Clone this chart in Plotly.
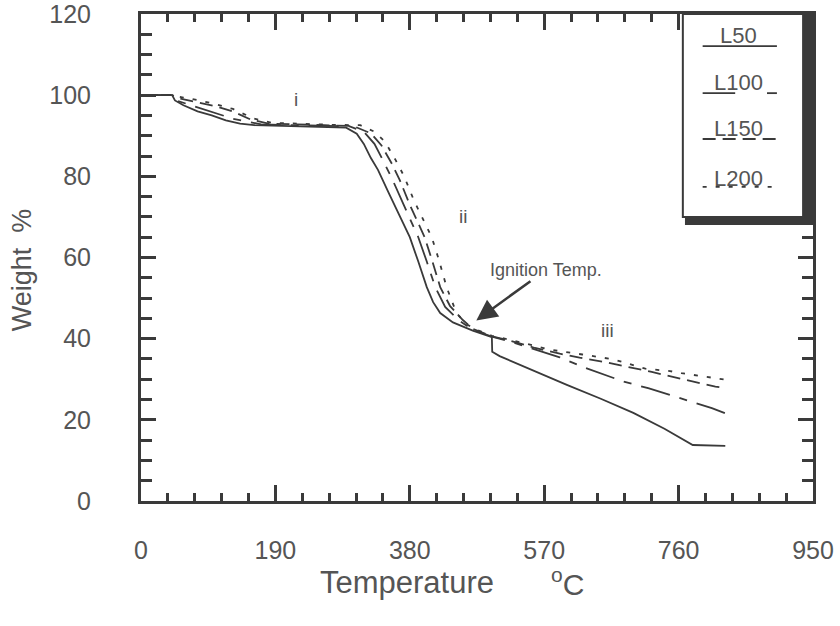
import plotly.graph_objects as go

# ---------------- data ----------------
series_names = ["L50", "L100", "L150", "L200"]

temp_L50 = [0, 44, 48, 60, 80, 100, 120, 140, 160, 200, 250, 290, 305, 315, 325, 335, 350, 365,
            380, 392, 404, 413, 423, 441, 469, 496, 496.5, 507, 540, 578, 602, 650, 696, 740, 780, 826]
wt_L50 = [100, 100, 98.7, 97.5, 96, 95, 93.8, 93, 92.6, 92.4, 92.3, 92, 90.5, 88, 84.5, 81.6, 76, 70.5,
          65, 59, 52.7, 49, 46.3, 44, 42, 40.4, 36.8, 35.7, 33.2, 30.3, 28.6, 25.2, 21.7, 17.8, 13.8, 13.6]

temp_L100 = [0, 44, 48, 70, 100, 130, 170, 250, 295, 315, 330, 342, 356, 370, 392, 404, 416, 430,
             450, 469, 496, 520, 557, 592, 628, 681, 717, 772, 807, 826]
wt_L100 = [100, 100, 98.8, 97.6, 96, 94.2, 92.8, 92.5, 92.3, 91, 88, 84, 79, 73.5, 65, 59, 52.7, 47.8,
           44.4, 42.2, 40.5, 39.4, 37.4, 35.4, 32.8, 29.5, 27.8, 24.9, 22.9, 21.6]

temp_L150 = [0, 44, 55, 80, 105, 130, 155, 180, 260, 300, 325, 340, 355, 366, 380, 401, 412, 423,
             437, 455, 469, 496, 520, 557, 592, 620, 660, 691, 722, 766, 790, 812, 826]
wt_L150 = [100, 100, 99.2, 98.2, 97.3, 96, 94, 93, 92.6, 92.4, 90.6, 87.6, 83, 79, 73, 65, 59, 52.7,
           48, 44.6, 42.4, 40.6, 39.6, 37.7, 36.3, 35.3, 34.1, 33.0, 31.8, 30.0, 29.0, 28.2, 27.9]

temp_L200 = [0, 44, 60, 80, 100, 130, 160, 185, 270, 310, 330, 345, 360, 372, 386, 411, 421, 432,
             446, 460, 472, 496, 520, 557, 578, 624, 668, 713, 748, 764, 790, 815, 826]
wt_L200 = [100, 100, 99.4, 98.8, 98, 96.6, 94.2, 93.2, 92.7, 92.6, 91, 88.5, 84, 80, 74, 65, 59.5, 52.7,
           46.3, 43.6, 42.4, 40.7, 39.8, 38.2, 37.3, 36.1, 34.9, 32.6, 32.0, 31.5, 30.8, 30.1, 29.9]

x_ticks = [0, 190, 380, 570, 760, 950]
y_ticks = [0, 20, 40, 60, 80, 100, 120]

stage_labels = ["i", "ii", "iii"]
stage_pos_x = [219, 455, 659]
stage_pos_y = [99, 70, 42]

ignition_label = "Ignition Temp."
ignition_point = (474, 44.5)
ignition_text_pos = (573, 57)

# ---------------- styling ----------------
INK = "#3a3a3a"
TXT = "#555555"
FONT = "Liberation Sans, Arial, sans-serif"
dashes = ["solid", "30px,10px,8px,10px", "13px,7px", "4px,9px"]

fig = go.Figure()
for name, xs, ys, d in zip(series_names,
                           [temp_L50, temp_L100, temp_L150, temp_L200],
                           [wt_L50, wt_L100, wt_L150, wt_L200], dashes):
    fig.add_trace(go.Scatter(x=xs, y=ys, mode="lines", name=name, showlegend=False,
                             line=dict(color=INK, width=1.8, dash=d)))

axis_common = dict(showline=True, linewidth=3, linecolor=INK, mirror="ticks",
                   ticks="inside", tickwidth=2.5, tickcolor=INK, automargin=False,
                   ticklabeloverflow="allow",
                   showgrid=False, zeroline=False,
                   tickfont=dict(family=FONT, size=25, color=TXT))

fig.update_xaxes(range=[0, 950], tickvals=x_ticks, ticklen=16, ticklabelstandoff=25,
                 minor=dict(ticks="inside", dtick=38, tick0=0, ticklen=8, tickwidth=2.5, tickcolor=INK),
                 **axis_common)
fig.update_yaxes(range=[0, 120], tickvals=y_ticks, ticklen=15, ticklabelstandoff=42,
                 minor=dict(ticks="inside", dtick=5, tick0=0, ticklen=11, tickwidth=2.5, tickcolor=INK),
                 **axis_common)

# ---------------- custom legend box (text above line sample) ----------------
shapes = []
shapes.append(dict(type="rect", xref="x", yref="y", x0=936, x1=950, y0=68, y1=120,
                   fillcolor=INK, line=dict(width=0)))
shapes.append(dict(type="rect", xref="x", yref="y", x0=769, x1=950, y0=68, y1=70,
                   fillcolor=INK, line=dict(width=0)))
shapes.append(dict(type="rect", xref="x", yref="y", x0=766, x1=936, y0=70, y1=120,
                   fillcolor="white", line=dict(width=2, color=INK)))

leg_text_y = [114.6, 103.0, 91.8, 79.5]
leg_line_y = [112.1, 100.5, 89.2, 77.4]
for i, name in enumerate(series_names):
    if i == 1:
        shapes.append(dict(type="line", xref="x", yref="y", x0=794, x1=840, y0=leg_line_y[i], y1=leg_line_y[i],
                           line=dict(color=INK, width=1.8)))
        shapes.append(dict(type="line", xref="x", yref="y", x0=885, x1=899, y0=leg_line_y[i], y1=leg_line_y[i],
                           line=dict(color=INK, width=1.8)))
    else:
        shapes.append(dict(type="line", xref="x", yref="y", x0=794, x1=899, y0=leg_line_y[i], y1=leg_line_y[i],
                           line=dict(color=INK, width=1.8, dash=dashes[i])))

annotations = []
for i, name in enumerate(series_names):
    annotations.append(dict(x=845, y=leg_text_y[i], xref="x", yref="y", text=name, showarrow=False,
                            xanchor="center", font=dict(family=FONT, size=22, color=TXT)))

for lab, lx, ly in zip(stage_labels, stage_pos_x, stage_pos_y):
    annotations.append(dict(x=lx, y=ly, xref="x", yref="y", text=lab, showarrow=False,
                            xanchor="center", font=dict(family=FONT, size=19, color=TXT)))

annotations.append(dict(x=ignition_point[0], y=ignition_point[1], xref="x", yref="y",
                        ax=ignition_text_pos[0], ay=ignition_text_pos[1], axref="x", ayref="y",
                        text=ignition_label, showarrow=True,
                        arrowhead=2, arrowsize=1.6, arrowwidth=2.6, arrowcolor=INK, standoff=0,
                        font=dict(family=FONT, size=18, color=TXT)))

# axis titles
annotations.append(dict(x=-0.177, y=0.474, xref="paper", yref="paper", text="Weight  %", textangle=-90,
                        xanchor="center", yanchor="middle",
                        showarrow=False, font=dict(family=FONT, size=27, color=TXT)))
annotations.append(dict(x=0.396, y=-0.168, xref="paper", yref="paper", text="Temperature",
                        xanchor="center", yanchor="middle",
                        showarrow=False, font=dict(family=FONT, size=31, color=TXT)))
annotations.append(dict(x=0.607, y=-0.167, xref="paper", yref="paper", text="<sup>o</sup>C",
                        xanchor="left", yanchor="middle",
                        showarrow=False, font=dict(family=FONT, size=30, color=TXT)))

fig.update_layout(width=840, height=626, margin=dict(l=141, r=27, t=14, b=125, autoexpand=False),
                  plot_bgcolor="white", paper_bgcolor="white",
                  shapes=shapes, annotations=annotations, showlegend=False)

fig.write_html("out.html", config={"displayModeBar": False},
               post_script="document.body.style.margin='0px';")
